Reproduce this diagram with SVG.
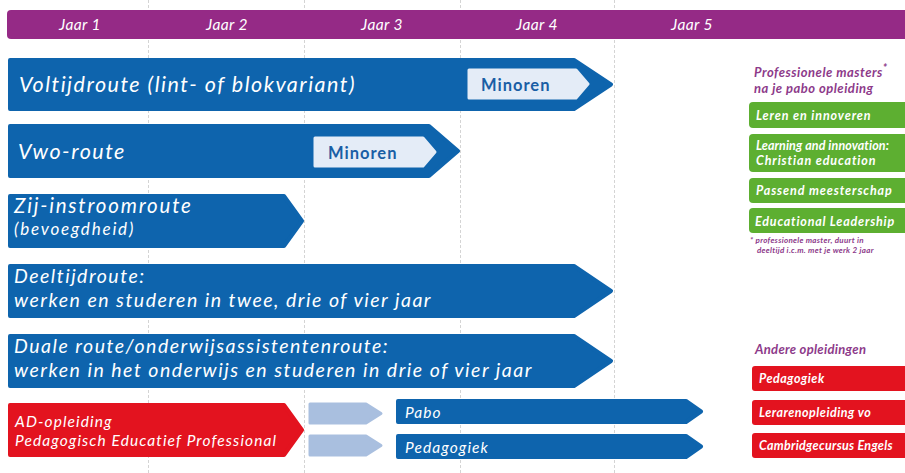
<svg xmlns="http://www.w3.org/2000/svg" width="905" height="473" viewBox="0 0 905 473">
<style>
text{font-family:Lato,"Open Sans","Liberation Sans",sans-serif;font-style:italic}
.grid{stroke:#d4d4d4;stroke-width:1;stroke-dasharray:3 2}
.blue{fill:#0e64ad;stroke:#0e64ad;stroke-width:4;stroke-linejoin:round}
.red{fill:#e3131f;stroke:#e3131f;stroke-width:4;stroke-linejoin:round}
.lb{fill:#a9bfdf;stroke:#a9bfdf;stroke-width:3;stroke-linejoin:round}
.inset{fill:#e4ecf7;stroke:#e4ecf7;stroke-width:3;stroke-linejoin:round}
.w{fill:#fff}
.big{font-size:21.5px;letter-spacing:1.5px}
.mid{font-size:19.5px;letter-spacing:1.5px}
.sm{font-size:15.5px;letter-spacing:1.1px}
.min{font-style:normal;fill:#1a5ea5;font-size:16.5px;font-weight:bold;letter-spacing:1px}
.jaar{fill:#fff;font-size:15.5px;letter-spacing:0.4px}
.hd{fill:#8d3a8a;font-size:13px;font-weight:bold;letter-spacing:0.5px}
.rb{fill:#fff;font-size:12.5px;font-weight:bold;letter-spacing:0.9px}
.ro{fill:#fff;font-size:12.5px;font-weight:bold;letter-spacing:0.5px}
.gbox{fill:#5daf31}
.rbox{fill:#e3131f}
.fn{fill:#8d3a8a;font-size:8px;font-weight:bold;letter-spacing:0.3px}
</style>
<rect width="905" height="473" fill="#fff"/>
<g id="gridlines">
<line class="grid" x1="148.5" y1="0" x2="148.5" y2="473"/>
<line class="grid" x1="304.5" y1="0" x2="304.5" y2="473"/>
<line class="grid" x1="460.5" y1="0" x2="460.5" y2="473"/>
<line class="grid" x1="614.5" y1="0" x2="614.5" y2="473"/>
</g>
<g id="header">
<rect x="7" y="10" width="905" height="29" rx="4" fill="#952a86"/>
<text class="jaar" x="80" y="30" text-anchor="middle">Jaar 1</text>
<text class="jaar" x="227" y="30" text-anchor="middle">Jaar 2</text>
<text class="jaar" x="382" y="30" text-anchor="middle">Jaar 3</text>
<text class="jaar" x="537" y="30" text-anchor="middle">Jaar 4</text>
<text class="jaar" x="692" y="30" text-anchor="middle">Jaar 5</text>
</g>
<g id="voltijd">
<polygon class="blue" points="10,60 574,60 611,84.5 574,109 10,109"/>
<text class="w big" x="19" y="92">Voltijdroute (lint- of blokvariant)</text>
<polygon class="inset" points="469,70 576,70 588,84 576,98 469,98"/>
<text class="min" x="481" y="91">Minoren</text>
</g>
<g id="vwo">
<polygon class="blue" points="10,126 429,126 458,151 429,176 10,176"/>
<text class="w big" x="18" y="159">Vwo-route</text>
<polygon class="inset" points="315,138 423,138 435,152 423,166 315,166"/>
<text class="min" x="328" y="159">Minoren</text>
</g>
<g id="zij">
<polygon class="blue" points="10,196 284,196 302,221 284,246 10,246"/>
<text class="w" x="14" y="213" style="font-size:20.5px;letter-spacing:1.8px">Zij-instroomroute</text>
<text class="w" x="14" y="235" style="font-size:17px;letter-spacing:1.8px">(bevoegdheid)</text>
</g>
<g id="deeltijd">
<polygon class="blue" points="10,266 574,266 611,291 574,316 10,316"/>
<text class="w mid" x="14" y="283">Deeltijdroute:</text>
<text class="w mid" x="14" y="307">werken en studeren in twee, drie of vier jaar</text>
</g>
<g id="duale">
<polygon class="blue" points="10,336 574,336 611,361 574,386 10,386"/>
<text class="w mid" x="14" y="353">Duale route/onderwijsassistentenroute:</text>
<text class="w mid" x="14" y="377">werken in het onderwijs en studeren in drie of vier jaar</text>
</g>
<g id="ad">
<polygon class="red" points="10,405 284,405 302,430 284,455 10,455"/>
<text class="w sm" x="15" y="427">AD-opleiding</text>
<text class="w sm" x="15" y="446">Pedagogisch Educatief Professional</text>
</g>
<g id="connectors">
<polygon class="lb" points="310,404 366,404 381,413.5 366,423 310,423"/>
<polygon class="lb" points="310,436 366,436 381,445.5 366,455 310,455"/>
</g>
<g id="pabo">
<polygon class="blue" points="398,401 686,401 701,411.5 686,422 398,422"/>
<text class="w sm" x="405" y="418">Pabo</text>
</g>
<g id="pedagogiek">
<polygon class="blue" points="398,436 686,436 701,446.5 686,457 398,457"/>
<text class="w sm" x="405" y="453">Pedagogiek</text>
</g>
<g id="masters">
<text class="hd" x="754" y="77">Professionele masters<tspan dy="-5" style="font-size:11px">*</tspan></text>
<text class="hd" x="754" y="93">na je pabo opleiding</text>
</g>
<g id="m1"><rect class="gbox" x="749" y="102" width="170" height="26" rx="4"/><text class="rb" x="756" y="120">Leren en innoveren</text></g>
<g id="m2"><rect class="gbox" x="749" y="134" width="170" height="38" rx="4"/><text class="rb" x="756" y="150" style="font-size:12.5px;letter-spacing:0.1px">Learning and innovation:</text><text class="rb" x="756" y="165">Christian education</text></g>
<g id="m3"><rect class="gbox" x="749" y="178" width="170" height="25" rx="4"/><text class="rb" x="756" y="195">Passend meesterschap</text></g>
<g id="m4"><rect class="gbox" x="749" y="208" width="170" height="25" rx="4"/><text class="rb" x="755" y="226" style="letter-spacing:0.8px">Educational Leadership</text></g>
<g id="footnote">
<text class="fn" x="750" y="243">* professionele master, duurt in</text>
<text class="fn" x="757" y="253">deeltijd i.c.m. met je werk 2 jaar</text>
</g>
<g id="andere"><text class="hd" x="755" y="354" style="letter-spacing:0.3px">Andere opleidingen</text></g>
<g id="o1"><rect class="rbox" x="752" y="366" width="170" height="25" rx="3"/><text class="ro" x="759" y="383">Pedagogiek</text></g>
<g id="o2"><rect class="rbox" x="752" y="400" width="170" height="25" rx="3"/><text class="ro" x="759" y="417">Lerarenopleiding vo</text></g>
<g id="o3"><rect class="rbox" x="752" y="433" width="170" height="25" rx="3"/><text class="ro" x="759" y="450" style="letter-spacing:0.3px">Cambridgecursus Engels</text></g>
</svg>
